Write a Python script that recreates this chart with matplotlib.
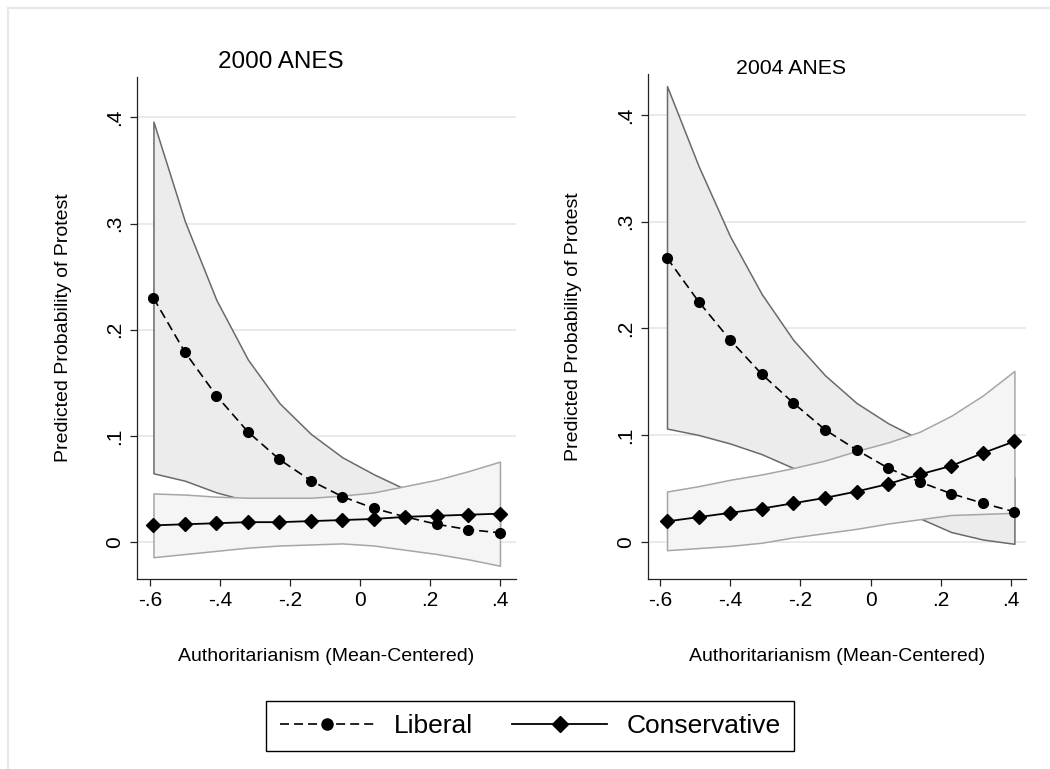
import matplotlib
matplotlib.use('Agg')
import matplotlib.pyplot as plt
from matplotlib.lines import Line2D
from matplotlib.patches import Rectangle

plt.rcParams['font.family'] = ['Liberation Sans', 'DejaVu Sans']
plt.rcParams['lines.scale_dashes'] = False

# 2000 ANES
x00 = [-0.59, -0.50, -0.41, -0.32, -0.23, -0.14, -0.05, 0.04, 0.13, 0.22, 0.31, 0.40]
lib00 = [0.230, 0.179, 0.138, 0.104, 0.078, 0.058, 0.043, 0.032, 0.024, 0.017, 0.012, 0.009]
lib00_hi = [0.396, 0.302, 0.228, 0.172, 0.131, 0.102, 0.080, 0.064, 0.050, 0.040, 0.033, 0.027]
lib00_lo = [0.065, 0.058, 0.047, 0.039, 0.032, 0.026, 0.021, 0.016, 0.012, 0.009, 0.006, 0.004]
con00 = [0.016, 0.017, 0.018, 0.019, 0.019, 0.020, 0.021, 0.022, 0.024, 0.025, 0.026, 0.027]
con00_hi = [0.046, 0.045, 0.043, 0.042, 0.042, 0.042, 0.044, 0.047, 0.053, 0.059, 0.067, 0.076]
con00_lo = [-0.014, -0.011, -0.008, -0.005, -0.003, -0.002, -0.001, -0.003, -0.007, -0.011, -0.016, -0.022]

# 2004 ANES
x04 = [-0.58, -0.49, -0.40, -0.31, -0.22, -0.13, -0.04, 0.05, 0.14, 0.23, 0.32, 0.41]
lib04 = [0.266, 0.225, 0.189, 0.157, 0.130, 0.105, 0.086, 0.069, 0.056, 0.045, 0.036, 0.028]
lib04_hi = [0.427, 0.352, 0.286, 0.232, 0.189, 0.156, 0.130, 0.111, 0.096, 0.082, 0.070, 0.060]
lib04_lo = [0.106, 0.100, 0.092, 0.082, 0.069, 0.056, 0.044, 0.033, 0.022, 0.009, 0.002, -0.002]
con04 = [0.019, 0.023, 0.027, 0.031, 0.036, 0.041, 0.047, 0.054, 0.063, 0.071, 0.083, 0.094]
con04_hi = [0.047, 0.052, 0.058, 0.063, 0.069, 0.076, 0.085, 0.093, 0.103, 0.118, 0.137, 0.160]
con04_lo = [-0.008, -0.006, -0.004, -0.001, 0.004, 0.008, 0.012, 0.017, 0.021, 0.025, 0.026, 0.027]

xticks = [-0.6, -0.4, -0.2, 0, 0.2, 0.4]
xticklabels = ['-.6', '-.4', '-.2', '0', '.2', '.4']
yticks = [0, 0.1, 0.2, 0.3, 0.4]
yticklabels = ['0', '.1', '.2', '.3', '.4']

W, H = 1050, 769
fig = plt.figure(figsize=(W / 100, H / 100), dpi=100)
fig.patches.append(Rectangle((8 / W, -0.1), 1.2, 1.1 - 8 / H, transform=fig.transFigure,
                             fill=False, edgecolor='#e8e8e8', lw=1.6))


def panel(rect, title, tsize, ty, x, lib, lhi, llo, con, chi, clo, ylim, xlim):
    ax = fig.add_axes(rect)
    ax.fill_between(x, llo, lhi, facecolor='#ececec', edgecolor='#6a6a6a', lw=1.1, zorder=2)
    ax.fill_between(x, clo, chi, facecolor='#f5f5f5', edgecolor='#a6a6a6', lw=1.1, zorder=3)
    ax.plot(x, lib, color='black', lw=1.2, dashes=(6.5, 3.6), marker='o', ms=7, zorder=5)
    ax.plot(x, con, color='black', lw=1.3, marker='D', ms=7, zorder=5)
    ax.set_xlim(xlim)
    ax.set_ylim(ylim)
    ax.set_xticks(xticks)
    ax.set_xticklabels(xticklabels, fontsize=15)
    ax.set_yticks(yticks)
    ax.set_yticklabels(yticklabels, fontsize=15, rotation=90, va='center')
    ax.yaxis.grid(True, color='#e8e8e8', lw=1.3)
    ax.set_axisbelow(True)
    for s in ['top', 'right']:
        ax.spines[s].set_visible(False)
    for s in ['left', 'bottom']:
        ax.spines[s].set_linewidth(0.9)
        ax.spines[s].set_color('#222222')
    ax.tick_params(direction='out', length=5, width=0.9, color='#222222', pad=4)
    ax.set_xlabel('Authoritarianism (Mean-Centered)', fontsize=14)
    ax.xaxis.set_label_coords(0.5, -69 / (rect[3] * H))
    ax.set_ylabel('Predicted Probability of Protest', fontsize=14, va='center')
    ax.yaxis.set_label_coords(-0.195, 0.5)
    # title centred over the whole panel incl. y label
    cx = rect[0] - 92 / W + (rect[2] + 92 / W) / 2
    fig.text(cx, 1 - ty / H, title, fontsize=tsize, ha='center', va='center')
    return ax


panel([137 / W, 1 - 579 / H, 378.7 / W, 502 / H], '2000 ANES', 17.5, 62,
      x00, lib00, lib00_hi, lib00_lo, con00, con00_hi, con00_lo,
      (-0.0345, 0.438), (-0.637, 0.445))
panel([647.7 / W, 1 - 579 / H, 378.3 / W, 505 / H], '2004 ANES', 15.3, 68,
      x04, lib04, lib04_hi, lib04_lo, con04, con04_hi, con04_lo,
      (-0.035, 0.4383), (-0.635, 0.443))

handles = [Line2D([], [], color='black', lw=1.2, dashes=(6.5, 3.6), marker='o', ms=8),
           Line2D([], [], color='black', lw=1.3, marker='D', ms=8)]
leg = fig.legend(handles, ['Liberal', 'Conservative'], loc='center',
                 bbox_to_anchor=(530 / W, 1 - 726 / H), ncol=2, fontsize=19,
                 handlelength=3.6, handletextpad=0.72, columnspacing=1.5,
                 borderpad=0.5, frameon=True, fancybox=False, edgecolor='black',
                 framealpha=1)
leg.get_frame().set_linewidth(1.0)

fig.savefig('out.png', dpi=100)
